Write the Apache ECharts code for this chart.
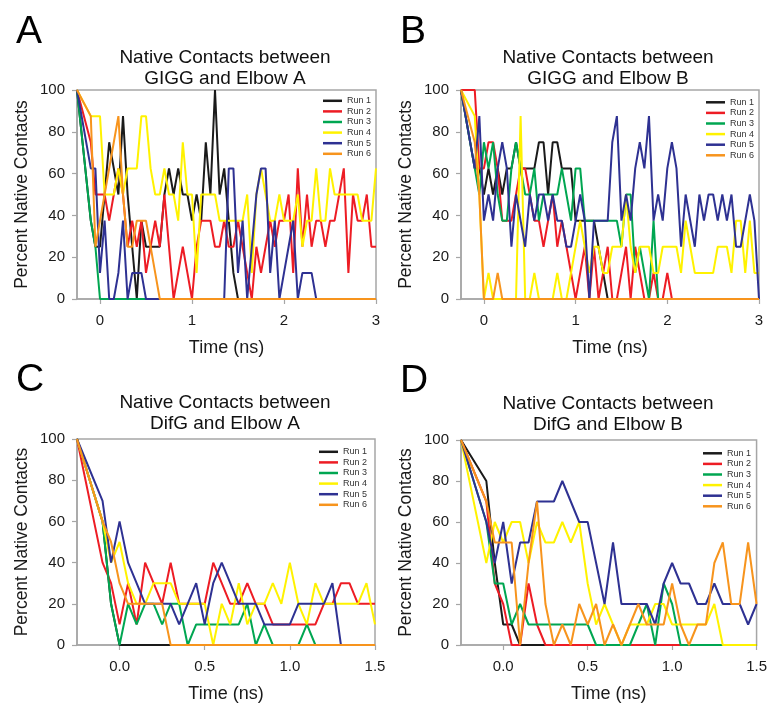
<!DOCTYPE html>
<html><head><meta charset="utf-8">
<script src="https://cdn.jsdelivr.net/npm/echarts@6/dist/echarts.min.js"></script>
<style>html,body{margin:0;padding:0;background:#fff}#c{width:770px;height:704px}</style>
</head><body><div id="c"></div>
<script>
// ---- data ----
const runNames = ['Run 1','Run 2','Run 3','Run 4','Run 5','Run 6'];
const panelTitles = [
  ['Native Contacts between','GIGG and Elbow A'],
  ['Native Contacts between','GIGG and Elbow B'],
  ['Native Contacts between','DifG and Elbow A'],
  ['Native Contacts between','DifG and Elbow B']
];
const panelLetters = ['A','B','C','D'];
const xTicksAB = [0,1,2,3];
const xTicksCD = [0,0.5,1,1.5];
const yTicks = [0,20,40,60,80,100];

const timeAB = [-0.25,-0.1,-0.05,0,0.05,0.1,0.15,0.2,0.25,0.3,0.35,0.4,0.45,0.5,0.55,0.6,0.65,0.7,0.75,0.8,0.85,0.9,0.95,1,1.05,1.1,1.15,1.2,1.25,1.3,1.35,1.4,1.45,1.5,1.55,1.6,1.65,1.7,1.75,1.8,1.85,1.9,1.95,2,2.05,2.1,2.15,2.2,2.25,2.3,2.35,2.4,2.45,2.5,2.55,2.6,2.65,2.7,2.75,2.8,2.85,2.9,2.95,3];
const timeCD = [-0.25,-0.1,-0.05,0,0.05,0.1,0.15,0.2,0.25,0.3,0.35,0.4,0.45,0.5,0.55,0.6,0.65,0.7,0.75,0.8,0.85,0.9,0.95,1,1.05,1.1,1.15,1.2,1.25,1.3,1.35,1.4,1.45,1.5];

// Panel A: GIGG - Elbow A
const A_run1 = [100,37.5,25,25,50,75,62.5,50,87.5,50, 25,0,37.5,25,25,25,25,50,62.5,50, 62.5,50,50,37.5,50,37.5,75,50,100,50, 62.5,37.5,12.5,0,0,0,0,0,0,0, 0,0,0,0,0,0,0,0,0,0, 0,0,0,0,0,0,0,0,0,0, 0,0,0,0];
const A_run2 = [100,75,50,50,50,37.5,50,62.5,50,25, 37.5,25,37.5,12.5,25,37.5,25,50,25,0, 12.5,25,12.5,0,25,37.5,37.5,37.5,25,25, 37.5,25,25,37.5,25,12.5,0,25,12.5,25, 37.5,25,37.5,37.5,50,12.5,62.5,25,50,25, 37.5,37.5,25,37.5,37.5,50,62.5,12.5,50,37.5, 37.5,50,25,25];
const A_run3 = [100,37.5,25,0,0,0,0,0,0,0, 0,0,0,0,0,0,0,0,0,0, 0,0,0,0,0,0,0,0,0,0, 0,0,0,0,0,0,0,0,0,0, 0,0,0,0,0,0,0,0,0,0, 0,0,0,0,0,0,0,0,0,0, 0,0,0,0];
const A_run4 = [100,87.5,87.5,87.5,50,50,50,62.5,50,62.5, 62.5,62.5,87.5,87.5,62.5,50,50,62.5,50,50, 37.5,75,50,50,12.5,50,50,50,50,37.5, 37.5,37.5,37.5,37.5,37.5,50,12.5,50,62.5,50, 37.5,37.5,50,37.5,37.5,37.5,50,25,37.5,37.5, 62.5,37.5,37.5,62.5,50,50,50,50,50,50, 37.5,37.5,37.5,62.5];
const A_run5 = [100,62.5,62.5,12.5,37.5,0,0,12.5,37.5,0, 12.5,12.5,12.5,0,0,0,0,0,0,0, 0,0,0,0,0,0,0,0,0,0, 0,62.5,62.5,12.5,37.5,0,25,50,62.5,62.5, 12.5,37.5,0,12.5,25,37.5,0,12.5,12.5,12.5, 0,0,0,0,0,0,0,0,0,0, 0,0,0,0];
const A_run6 = [100,87.5,25,37.5,50,62.5,75,87.5,50,25, 25,37.5,37.5,37.5,25,12.5,0,0,0,0, 0,0,0,0,0,0,0,0,0,0, 0,0,0,0,0,0,0,0,0,0, 0,0,0,0,0,0,0,0,0,0, 0,0,0,0,0,0,0,0,0,0, 0,0,0,0];

// Panel B: GIGG - Elbow B
const B_run1 = [100,62.5,62.5,50,62.5,50,62.5,50,62.5,62.5, 75,62.5,62.5,62.5,62.5,75,75,50,75,75, 62.5,62.5,62.5,37.5,37.5,37.5,37.5,37.5,25,12.5, 0,0,0,0,0,0,0,0,0,0, 0,0,0,0,0,0,0,0,0,0, 0,0,0,0,0,0,0,0,0,0, 0,0,0,0];
const B_run2 = [100,100,62.5,62.5,75,75,62.5,37.5,37.5,37.5, 50,62.5,62.5,50,37.5,37.5,25,37.5,50,25, 37.5,25,12.5,0,12.5,25,0,25,0,12.5, 25,0,0,12.5,25,0,25,12.5,0,0, 12.5,0,0,12.5,0,0,0,0,0,0, 0,0,0,0,0,0,0,0,0,0, 0,0,0,0];
const B_run3 = [100,62.5,50,75,62.5,75,50,37.5,37.5,62.5, 75,62.5,50,50,62.5,37.5,50,50,50,50, 62.5,50,37.5,62.5,62.5,37.5,37.5,37.5,37.5,37.5, 37.5,37.5,37.5,25,50,50,12.5,25,12.5,0, 37.5,0,0,0,0,0,0,0,0,0, 0,0,0,0,0,0,0,0,0,0, 0,0,0,0];
const B_run4 = [100,87.5,50,0,12.5,0,0,0,0,0, 0,87.5,0,0,12.5,0,0,0,0,12.5, 0,0,12.5,25,37.5,25,12.5,25,25,12.5, 12.5,25,25,25,50,25,12.5,25,25,25, 12.5,12.5,25,25,25,25,12.5,37.5,25,12.5, 12.5,12.5,12.5,12.5,25,25,25,12.5,37.5,37.5, 12.5,37.5,12.5,12.5];
const B_run5 = [100,62.5,87.5,37.5,50,37.5,62.5,75,62.5,25, 50,37.5,25,50,37.5,50,50,37.5,50,37.5, 37.5,25,25,37.5,50,37.5,0,37.5,37.5,37.5, 37.5,75,87.5,37.5,50,37.5,62.5,75,62.5,87.5, 37.5,50,37.5,62.5,75,62.5,25,50,37.5,25, 50,37.5,50,50,37.5,50,37.5,50,25,25, 37.5,50,37.5,0];
const B_run6 = [100,75,50,0,0,0,12.5,0,0,0, 0,0,0,0,0,0,0,0,0,0, 0,0,0,0,0,0,0,0,0,0, 0,0,0,0,0,0,0,0,0,0, 0,0,0,0,0,0,0,0,0,0, 0,0,0,0,0,0,0,0,0,0, 0,0,0,0];

// Panel C: DifG - Elbow A
const C_run1 = [100,60,20,0,0,0,0,0,0,0, 0,0,0,0,0,0,0,0,0,0, 0,0,0,0,0,0,0,0,0,0, 0,0,0,0];
const C_run2 = [100,40,30,10,30,10,40,30,20,40, 20,20,20,20,40,30,20,20,30,20, 20,10,10,10,10,10,10,20,20,30, 30,20,20,20];
const C_run3 = [100,60,20,0,20,10,20,20,10,20, 20,0,10,10,10,10,10,10,20,0, 10,0,0,0,0,10,0,0,0,0, 0,0,0,0];
const C_run4 = [100,60,40,50,30,20,20,30,30,30, 20,20,20,20,0,20,10,30,10,20, 20,30,20,40,20,10,30,20,20,20, 20,20,30,10];
const C_run5 = [100,70,40,60,40,30,20,20,20,20, 10,20,30,10,30,40,30,20,20,20, 10,10,10,10,20,20,20,20,30,0, 0,0,0,0];
const C_run6 = [100,60,50,30,20,20,20,20,20,0, 0,0,0,0,0,0,0,0,0,0, 0,0,0,0,0,0,0,0,0,0, 0,0,0,0];

// Panel D: DifG - Elbow B
const D_run1 = [100,80,40,10,10,0,0,0,0,0, 0,0,0,0,0,0,0,0,0,0, 0,0,0,0,0,0,0,0,0,0, 0,0,0,0];
const D_run2 = [100,70,30,20,0,0,30,10,0,0, 0,0,0,0,0,0,0,0,0,0, 0,0,0,0,0,0,0,0,0,0, 0,0,0,0];
const D_run3 = [100,60,30,30,10,20,10,10,10,10, 10,10,10,10,0,0,0,0,0,10, 20,0,30,20,0,0,0,0,0,0, 0,0,0,0];
const D_run4 = [100,40,60,50,60,60,40,60,50,50, 60,50,60,30,10,20,10,0,10,10, 10,20,20,10,10,10,10,10,20,0, 0,0,0,0];
const D_run5 = [100,60,40,60,30,50,50,70,70,70, 80,70,60,60,40,20,50,20,20,20, 20,10,30,40,30,30,20,20,30,20, 20,20,10,20];
const D_run6 = [100,70,50,50,50,0,40,70,20,0, 10,0,20,10,20,0,10,0,10,20, 10,10,10,30,10,0,10,10,40,50, 20,20,50,20];

// ---- layout / style ----
const runColors = ['#1a1a1a','#ed1c24','#00a651','#fff200','#2e3192','#f7941d'];
const FONT = '"Liberation Sans", Arial, sans-serif';
const panels = [
  {time: timeAB, runs:[A_run1,A_run2,A_run3,A_run4,A_run5,A_run6], xmax:3, ticks:xTicksAB, dec:0,
   grid:{left:77, top:90, width:299, height:209}, legend:{left:323, top:95.5}, title:{x:225, y:58}, letter:{x:16, y:32}},
  {time: timeAB, runs:[B_run1,B_run2,B_run3,B_run4,B_run5,B_run6], xmax:3, ticks:xTicksAB, dec:0,
   grid:{left:461, top:90, width:298, height:209}, legend:{left:706, top:97}, title:{x:608, y:58}, letter:{x:400, y:32}},
  {time: timeCD, runs:[C_run1,C_run2,C_run3,C_run4,C_run5,C_run6], xmax:1.5, ticks:xTicksCD, dec:1,
   grid:{left:77, top:439, width:298, height:208}, legend:{left:319, top:446.5}, title:{x:225, y:403}, letter:{x:16, y:380}},
  {time: timeCD, runs:[D_run1,D_run2,D_run3,D_run4,D_run5,D_run6], xmax:1.5, ticks:xTicksCD, dec:1,
   grid:{left:461, top:440, width:298, height:208}, legend:{left:703, top:448}, title:{x:608, y:404}, letter:{x:400, y:381}}
];

const grids=[], xAxes=[], yAxes=[], series=[], legends=[], graphics=[];
panels.forEach((p, pi) => {
  grids.push(Object.assign({show:true, borderColor:'#a6a6a6', borderWidth:1.5, containLabel:false}, p.grid));
  xAxes.push({
    type:'value', gridIndex:pi, min:-0.25, max:p.xmax,
    axisLine:{show:true, onZero:false, lineStyle:{color:'#a6a6a6', width:1.5}},
    axisTick:{show:true, customValues:p.ticks, length:5, lineStyle:{color:'#a6a6a6', width:1.2}},
    axisLabel:{customValues:p.ticks, fontSize:15, color:'#1a1a1a', margin:14, fontFamily:FONT,
      formatter: v => Number(v).toFixed(p.dec)},
    splitLine:{show:false},
    name:'Time (ns)', nameLocation:'middle', nameGap:40,
    nameTextStyle:{fontSize:18, color:'#1a1a1a', fontFamily:FONT}
  });
  yAxes.push({
    type:'value', gridIndex:pi, min:0, max:100, interval:20,
    axisLine:{show:true, onZero:false, lineStyle:{color:'#a6a6a6', width:1.5}},
    axisTick:{show:true, length:5, lineStyle:{color:'#a6a6a6', width:1.2}},
    axisLabel:{customValues:yTicks, fontSize:15, color:'#1a1a1a', margin:12, fontFamily:FONT},
    splitLine:{show:false},
    name:'Percent Native Contacts', nameLocation:'middle', nameGap:46,
    nameTextStyle:{fontSize:17.5, color:'#1a1a1a', fontFamily:FONT}
  });
  p.runs.forEach((vals, ri) => {
    series.push({
      type:'line', name:runNames[ri], xAxisIndex:pi, yAxisIndex:pi,
      data: p.time.map((t, i) => [t, vals[i]]),
      symbol:'none', clip:false, animation:false,
      lineStyle:{width:2, color:runColors[ri]}, itemStyle:{color:runColors[ri]}
    });
  });
  legends.push({
    data: runNames, orient:'vertical', left:p.legend.left, top:p.legend.top,
    icon:'rect', itemWidth:19, itemHeight:2.5, itemGap:0, padding:0, selectedMode:false,
    textStyle:{fontSize:9, lineHeight:10.6, color:'#333', fontFamily:FONT}
  });
  graphics.push({type:'text', x:p.title.x, y:p.title.y, style:{text:panelTitles[pi][0], fontSize:19, fontFamily:FONT, fill:'#111', textAlign:'center', textVerticalAlign:'middle', align:'center', verticalAlign:'middle'}});
  graphics.push({type:'text', x:p.title.x, y:p.title.y+21, style:{text:panelTitles[pi][1], fontSize:19, fontFamily:FONT, fill:'#111', textAlign:'center', textVerticalAlign:'middle', align:'center', verticalAlign:'middle'}});
  graphics.push({type:'text', x:p.letter.x, y:p.letter.y, style:{text:panelLetters[pi], fontSize:39, fontFamily:FONT, fill:'#000', textAlign:'left', textVerticalAlign:'middle', align:'left', verticalAlign:'middle'}});
});

const chart = echarts.init(document.getElementById('c'), null, {renderer:'canvas'});
chart.setOption({
  animation:false, backgroundColor:'#fff',
  grid:grids, xAxis:xAxes, yAxis:yAxes, series:series, legend:legends, graphic:graphics
});
</script></body></html>
